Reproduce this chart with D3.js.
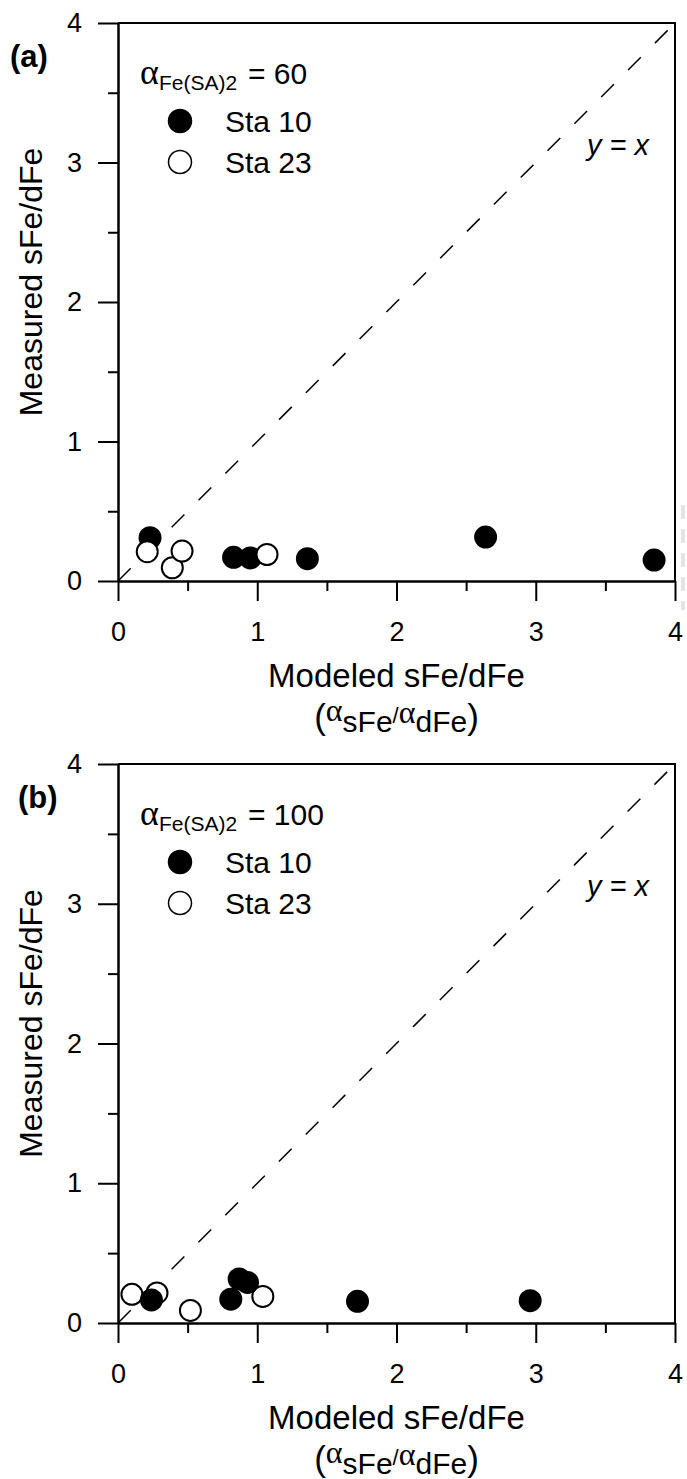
<!DOCTYPE html>
<html>
<head>
<meta charset="utf-8">
<script src="https://cdn.jsdelivr.net/npm/d3@7"></script>
<style>
  body { margin: 0; background: #fff; }
  text { font-family: "Liberation Sans", Arial, sans-serif; fill: #000; }
  .major .tick text { font-size: 27px; }
</style>
</head>
<body>
<div id="plot"></div>
<script>
    // Data: [modeled, measured]
    const sta10_a = [[0.23, 0.31], [0.83, 0.17], [0.95, 0.165], [1.36, 0.16], [2.64, 0.315], [3.85, 0.15]];
    const sta23_a = [[0.21, 0.21], [0.39, 0.095], [0.46, 0.215], [1.07, 0.19]];
    const sta10_b = [[0.24, 0.165], [0.81, 0.17], [0.87, 0.315], [0.93, 0.29], [1.72, 0.155], [2.96, 0.16]];
    const sta23_b = [[0.10, 0.205], [0.28, 0.215], [0.52, 0.09], [1.04, 0.19]];

    const panelLabels = ['(a)', '(b)'];
    const alphaValues = ['60', '100'];
    const legendNames = ['Sta 10', 'Sta 23'];
    const majorTicks = [0, 1, 2, 3, 4];
    const minorTicks = [0.5, 1.5, 2.5, 3.5];

    const svgWidth = 687;
    const svgHeight = 1479;

    const svg = d3.select('#plot')
        .append('svg')
        .attr('width', svgWidth)
        .attr('height', svgHeight);

    const panels = [
        { top: 23, bottom: 581, label: panelLabels[0], labelX: 10, alpha: alphaValues[0], filled: sta10_a, open: sta23_a, filledOnTop: false },
        { top: 764, bottom: 1323, label: panelLabels[1], labelX: 18, alpha: alphaValues[1], filled: sta10_b, open: sta23_b, filledOnTop: true }
    ];

    const left = 118, right = 675;

    function drawPanel(p) {
        const g = svg.append('g');

        const xScale = d3.scaleLinear().domain([0, 4]).range([left, right]);
        const yScale = d3.scaleLinear().domain([0, 4]).range([p.bottom, p.top]);

        // frame (top and right)
        g.append('path')
            .attr('d', `M${left},${p.top}H${right}V${p.bottom}`)
            .attr('fill', 'none')
            .attr('stroke', '#000')
            .attr('stroke-width', 2);

        // minor ticks
        g.append('g')
            .attr('transform', `translate(0, ${p.bottom})`)
            .call(d3.axisBottom(xScale).tickValues(minorTicks).tickSize(10).tickSizeOuter(0).tickFormat(''));
        g.append('g')
            .attr('transform', `translate(${left}, 0)`)
            .call(d3.axisLeft(yScale).tickValues(minorTicks).tickSize(10).tickSizeOuter(0).tickFormat(''));

        // major ticks with labels
        g.append('g')
            .attr('class', 'major')
            .attr('transform', `translate(0, ${p.bottom})`)
            .call(d3.axisBottom(xScale).tickValues(majorTicks).tickSize(20).tickSizeOuter(0).tickPadding(21).tickFormat(d3.format('d')));
        g.append('g')
            .attr('class', 'major')
            .attr('transform', `translate(${left}, 0)`)
            .call(d3.axisLeft(yScale).tickValues(majorTicks).tickSize(20).tickSizeOuter(0).tickPadding(16).tickFormat(d3.format('d')));

        g.selectAll('.domain, .tick line').attr('stroke', '#000').attr('stroke-width', 2);
        g.selectAll('.major .tick text')
            .attr('fill', '#000')
            .attr('font-size', 27)
            .style('font-size', '27px');

        // y = x dashed line
        g.append('line')
            .attr('x1', xScale(0)).attr('y1', yScale(0))
            .attr('x2', xScale(4)).attr('y2', yScale(4))
            .attr('stroke', '#000')
            .attr('stroke-width', 1.5)
            .attr('stroke-dasharray', '18,20');

        g.append('text')
            .attr('x', 587)
            .attr('y', p.top + 132)
            .style('font-size', '29px')
            .style('font-style', 'italic')
            .text('y = x');

        // points
        const drawSet = (data, fill) => {
            g.selectAll(null)
                .data(data)
                .enter()
                .append('circle')
                .attr('cx', d => xScale(d[0]))
                .attr('cy', d => yScale(d[1]))
                .attr('r', 10.5)
                .attr('fill', fill)
                .attr('stroke', '#000')
                .attr('stroke-width', 2);
        };
        if (p.filledOnTop) {
            drawSet(p.open, '#fff');
            drawSet(p.filled, '#000');
        } else {
            drawSet(p.filled, '#000');
            drawSet(p.open, '#fff');
        }

        // panel label
        g.append('text')
            .attr('x', p.labelX)
            .attr('y', p.top + 44)
            .style('font-size', '31px')
            .style('font-weight', 'bold')
            .text(p.label);

        // legend title
        const title = g.append('text')
            .attr('x', 140)
            .attr('y', p.top + 61);
        title.append('tspan')
            .style('font-family', '"Liberation Serif", "Times New Roman", serif')
            .style('font-size', '36px')
            .text('\u03B1');
        title.append('tspan')
            .attr('dy', 6)
            .style('font-size', '21px')
            .text('Fe(SA)2');
        title.append('tspan')
            .attr('dy', -6)
            .attr('x', 248)
            .style('font-size', '30px')
            .text('= ' + p.alpha);

        // legend entries
        legendNames.forEach((name, i) => {
            const cy = p.top + 98 + i * 41;
            g.append('circle')
                .attr('cx', 180)
                .attr('cy', cy)
                .attr('r', 11.5)
                .attr('fill', i === 0 ? '#000' : '#fff')
                .attr('stroke', '#000')
                .attr('stroke-width', 1.5);
            g.append('text')
                .attr('x', 225)
                .attr('y', cy + 11)
                .style('font-size', '30px')
                .text(name);
        });

        // y axis title
        g.append('text')
            .attr('transform', `translate(42, ${(p.top + p.bottom) / 2 - 20}) rotate(-90)`)
            .attr('text-anchor', 'middle')
            .style('font-size', '32px')
            .text('Measured sFe/dFe');

        // x axis title
        const cx = (left + right) / 2;
        g.append('text')
            .attr('x', cx)
            .attr('y', p.bottom + 106)
            .attr('text-anchor', 'middle')
            .style('font-size', '33px')
            .text('Modeled sFe/dFe');

        const sub = g.append('text')
            .attr('x', cx)
            .attr('y', p.bottom + 148)
            .attr('text-anchor', 'middle')
            .style('font-size', '35px');
        sub.append('tspan').text('(');
        sub.append('tspan').attr('dy', -8).style('font-family', '"Liberation Serif", serif').style('font-size', '32px').text('\u03B1');
        sub.append('tspan').attr('dy', 11).style('font-size', '30px').text('sFe');
        sub.append('tspan').attr('dy', -9).style('font-size', '22px').text('/');
        sub.append('tspan').style('font-family', '"Liberation Serif", serif').style('font-size', '32px').text('\u03B1');
        sub.append('tspan').attr('dy', 9).style('font-size', '30px').text('dFe');
        sub.append('tspan').attr('dy', -3).text(')');
    }

    panels.forEach(drawPanel);

    // faint scan artefact at the right edge of panel (a)
    svg.append('line')
        .attr('x1', 683).attr('y1', 505)
        .attr('x2', 683).attr('y2', 610)
        .attr('stroke', '#e4e4e4')
        .attr('stroke-width', 4)
        .attr('stroke-dasharray', '14,10');
</script>
</body>
</html>
